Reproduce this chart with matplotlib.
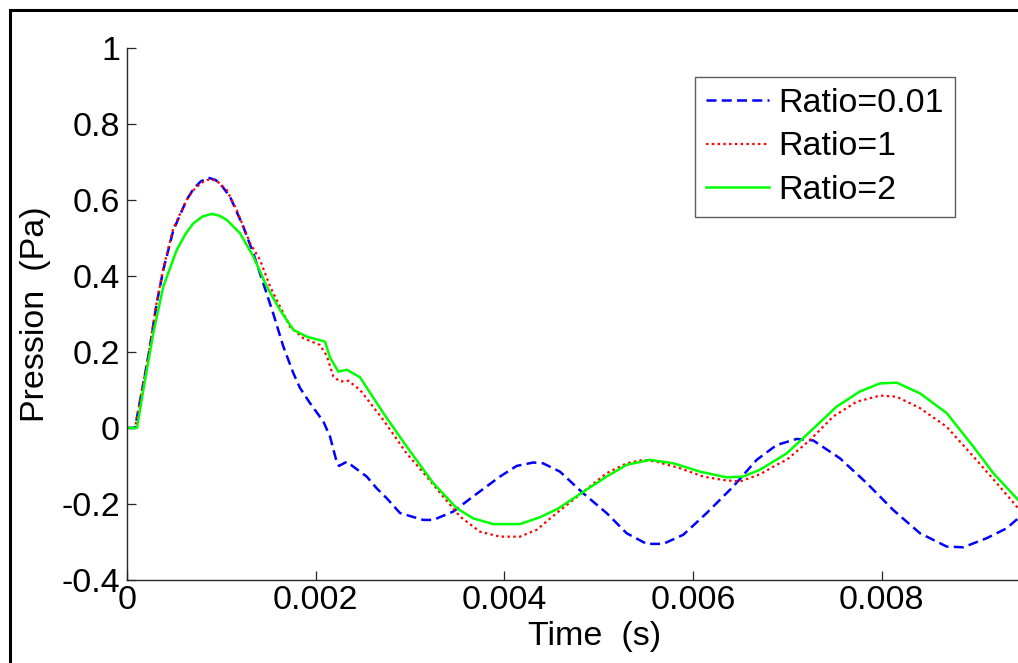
import matplotlib
matplotlib.use("Agg")
import matplotlib.pyplot as plt
from matplotlib.patches import Rectangle

# Time samples (ms) and pressure (Pa) for each mass ratio
t_r001 = [0.0, 0.085, 0.226, 0.315, 0.385, 0.491, 0.633, 0.703, 0.780, 0.862, 0.940, 1.010, 1.092,
          1.233, 1.339, 1.445, 1.551, 1.657, 1.763, 1.834, 1.940, 2.081, 2.152,
          2.223, 2.247, 2.329, 2.541, 2.647, 2.753, 2.894, 3.140, 3.246, 3.458,
          3.670, 3.953, 4.130, 4.306, 4.409, 4.589, 4.836, 5.084, 5.296, 5.508,
          5.684, 5.896, 6.144, 6.426, 6.674, 6.886, 7.098, 7.274, 7.557, 7.840,
          8.122, 8.405, 8.688, 8.864, 9.112, 9.324, 9.444]
p_r001 = [0.0, 0.0, 0.188, 0.328, 0.416, 0.520, 0.600, 0.628, 0.648, 0.658, 0.652, 0.635, 0.608,
          0.529, 0.459, 0.380, 0.300, 0.214, 0.144, 0.105, 0.065, 0.017, -0.023,
          -0.090, -0.100, -0.089, -0.128, -0.159, -0.185, -0.224, -0.242, -0.242, -0.220,
          -0.180, -0.128, -0.100, -0.091, -0.093, -0.115, -0.172, -0.224, -0.277, -0.305,
          -0.305, -0.281, -0.224, -0.154, -0.084, -0.045, -0.029, -0.033, -0.080, -0.145,
          -0.216, -0.277, -0.312, -0.314, -0.290, -0.264, -0.238]

t_r1 = [0.0, 0.085, 0.226, 0.315, 0.385, 0.491, 0.633, 0.703, 0.790, 0.880, 0.960, 1.057,
        1.163, 1.304, 1.410, 1.516, 1.622, 1.728, 1.869, 2.046, 2.117, 2.187,
        2.258, 2.346, 2.470, 2.717, 2.964, 3.176, 3.352, 3.529, 3.741, 3.953,
        4.165, 4.342, 4.554, 4.836, 5.084, 5.296, 5.472, 5.614, 5.861, 6.108,
        6.320, 6.497, 6.709, 6.886, 6.992, 7.239, 7.486, 7.734, 7.981, 8.158,
        8.405, 8.688, 8.970, 9.218, 9.444]
p_r1 = [0.0, 0.0, 0.190, 0.330, 0.420, 0.525, 0.600, 0.625, 0.645, 0.655, 0.648, 0.626,
        0.573, 0.486, 0.442, 0.372, 0.319, 0.266, 0.236, 0.218, 0.190, 0.135,
        0.122, 0.124, 0.100, 0.021, -0.067, -0.128, -0.181, -0.233, -0.273, -0.286,
        -0.286, -0.268, -0.224, -0.168, -0.119, -0.093, -0.084, -0.089, -0.106, -0.128,
        -0.137, -0.141, -0.122, -0.097, -0.084, -0.032, 0.030, 0.069, 0.085, 0.082,
        0.052, 0.003, -0.075, -0.145, -0.211]

t_r2 = [0.0, 0.106, 0.173, 0.279, 0.385, 0.527, 0.620, 0.703, 0.800, 0.898, 0.980, 1.057, 1.198, 1.339,
        1.481, 1.622, 1.763, 1.905, 2.099, 2.152, 2.240, 2.329, 2.470, 2.717,
        2.964, 3.246, 3.494, 3.670, 3.882, 4.165, 4.377, 4.571, 4.836, 5.084,
        5.296, 5.543, 5.790, 6.073, 6.356, 6.532, 6.709, 6.992, 7.239, 7.522,
        7.769, 7.981, 8.158, 8.405, 8.688, 8.970, 9.182, 9.444]
p_r2 = [0.0, 0.0, 0.100, 0.249, 0.372, 0.468, 0.510, 0.538, 0.556, 0.563, 0.558, 0.547, 0.512, 0.451,
        0.372, 0.310, 0.258, 0.240, 0.227, 0.185, 0.148, 0.153, 0.133, 0.039,
        -0.049, -0.145, -0.211, -0.238, -0.253, -0.253, -0.235, -0.212, -0.168, -0.128,
        -0.097, -0.084, -0.093, -0.115, -0.130, -0.128, -0.110, -0.067, -0.010, 0.056,
        0.096, 0.117, 0.119, 0.091, 0.039, -0.049, -0.119, -0.189]

labels = ["Ratio=0.01", "Ratio=1", "Ratio=2"]
x_ticks = [0.0, 0.002, 0.004, 0.006, 0.008]
x_ticklabels = ["0", "0.002", "0.004", "0.006", "0.008"]
y_ticks = [-0.4, -0.2, 0.0, 0.2, 0.4, 0.6, 0.8, 1.0]
y_ticklabels = ["-0.4", "-0.2", "0", "0.2", "0.4", "0.6", "0.8", "1"]

plt.rcParams["font.family"] = ["Liberation Sans", "DejaVu Sans"]
FS = 24.5

W, H = 1018, 663
fig = plt.figure(figsize=(W / 100, H / 100), dpi=100)
fig.patch.set_facecolor("white")

ax_l, ax_b, ax_r, ax_t = 127, 580, 1018, 47.7
ax = fig.add_axes([ax_l / W, 1 - ax_b / H, (ax_r - ax_l) / W, (ax_b - ax_t) / H])

ms = 1e-3
ax.plot([v * ms for v in t_r001], p_r001, color=(0, 0, 1), lw=1.8,
        dashes=(4.0, 2.1), label=labels[0])
ax.plot([v * ms for v in t_r1], p_r1, color=(1, 0, 0), lw=1.6,
        dashes=(1.1, 1.5), label=labels[1])
ax.plot([v * ms for v in t_r2], p_r2, color=(0, 1, 0), lw=1.8,
        label=labels[2])

ax.set_xlim(0, 9.444 * ms)
ax.set_ylim(-0.4, 1.0)
ax.set_xticks(x_ticks)
ax.set_xticklabels(x_ticklabels)
ax.set_yticks(y_ticks)
ax.set_yticklabels(y_ticklabels)

for side in ("top", "right"):
    ax.spines[side].set_visible(False)
for side in ("left", "bottom"):
    ax.spines[side].set_color("#262626")
    ax.spines[side].set_linewidth(1.0)

ax.tick_params(axis="both", direction="in", length=6.5, width=0.9,
               color="#262626", labelsize=FS, labelcolor="black")
ax.tick_params(axis="x", pad=3.5)
ax.tick_params(axis="y", pad=5)

ax.set_xlabel("Time  (s)", fontsize=FS)
ax.set_ylabel("Pression  (Pa)", fontsize=FS)
ax.xaxis.set_label_coords((595 - ax_l) / (ax_r - ax_l), (ax_b - 621) / (ax_b - ax_t))
ax.yaxis.set_label_coords((51 - ax_l) / (ax_r - ax_l), (ax_b - 314) / (ax_b - ax_t))

leg = ax.legend(loc="upper left", bbox_to_anchor=(695 / W, 1 - 77 / H),
                bbox_transform=fig.transFigure, fontsize=FS, frameon=True,
                fancybox=False, shadow=False, borderaxespad=0.0,
                borderpad=0.33, handlelength=1.85, handletextpad=0.28,
                labelspacing=0.36)
leg.get_frame().set_edgecolor("#333333")
leg.get_frame().set_linewidth(1.0)

# outer black frame around the figure
fig.patches.append(Rectangle((9.5 / W, -0.1), 1.2, 1 - 10 / H + 0.1,
                             transform=fig.transFigure, fill=False,
                             edgecolor="black", linewidth=2.2, zorder=10))

fig.savefig("out.png", dpi=100)
